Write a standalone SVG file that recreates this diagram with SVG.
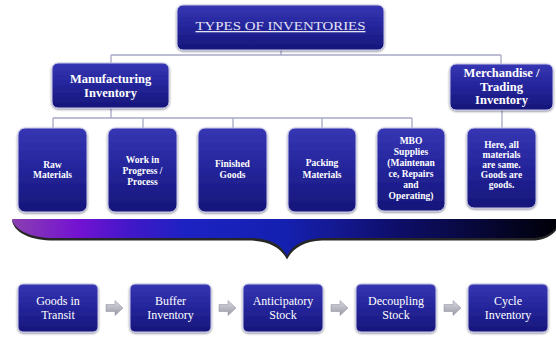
<svg xmlns="http://www.w3.org/2000/svg" width="556" height="337" viewBox="0 0 556 337">
<defs>
<linearGradient id="boxg" x1="0" y1="0" x2="0" y2="1">
<stop offset="0" stop-color="#3636b4"/>
<stop offset="0.5" stop-color="#24249a"/>
<stop offset="1" stop-color="#16167a"/>
</linearGradient>
<linearGradient id="band" x1="0" y1="0" x2="1" y2="0">
<stop offset="0" stop-color="#8a40b0"/>
<stop offset="0.12" stop-color="#7412d2"/>
<stop offset="0.22" stop-color="#4018c8"/>
<stop offset="0.32" stop-color="#1c22c2"/>
<stop offset="0.5" stop-color="#1420b0"/>
<stop offset="0.6" stop-color="#141890"/>
<stop offset="0.7" stop-color="#0e0e6c"/>
<stop offset="0.8" stop-color="#0a0a4c"/>
<stop offset="0.9" stop-color="#05052a"/>
<stop offset="1" stop-color="#000008"/>
</linearGradient>
<linearGradient id="arrg" x1="0" y1="0" x2="0" y2="1">
<stop offset="0" stop-color="#d8d8e0"/>
<stop offset="1" stop-color="#9a9aa8"/>
</linearGradient>
<filter id="sh" x="-10%" y="-10%" width="120%" height="125%">
<feDropShadow dx="0" dy="1" stdDeviation="1" flood-color="#000030" flood-opacity="0.5"/>
</filter>
<path id="arr" d="M0,-3.5 H9 V-7.5 L17,0 L9,7.5 V3.5 H0 Z"/>
</defs>
<style>
.box{fill:url(#boxg);stroke:#c8c8e8;stroke-width:1;filter:url(#sh)}
.t{font-family:"Liberation Serif","Times New Roman",serif;fill:#ffffff;text-anchor:middle}
.b13{font-size:12.5px;font-weight:bold}
.s9{font-size:9.5px;font-weight:bold}
.r13{font-size:12px}
.ln{stroke:#a8a8c8;stroke-width:1.3;fill:none}
.ar{fill:url(#arrg);stroke:#8a8a98;stroke-width:0.5}
</style>
<rect width="556" height="337" fill="#ffffff"/>

<g id="connectors">
<path class="ln" d="M281,50 V55 M111,55 H501 M111,55 V63 M501,55 V64"/>
<path class="ln" d="M111,108 V118 M53,118 H412 M53,118 V128 M143,118 V128 M233,118 V128 M322,118 V128 M412,118 V128"/>
<path class="ln" d="M502,110 V128"/>
</g>

<g id="title">
<rect class="box" x="177" y="5" width="207" height="45" rx="6"/>
<text class="t" x="280.5" y="30" font-size="13" style="fill:#e4e4f4" text-decoration="underline" textLength="170" lengthAdjust="spacingAndGlyphs">TYPES OF INVENTORIES</text>
</g>

<g id="manufacturing">
<rect class="box" x="52" y="63" width="117" height="45" rx="6"/>
<text class="t b13" x="110.5" y="82.5">Manufacturing</text>
<text class="t b13" x="110.5" y="97">Inventory</text>
</g>

<g id="merchandise">
<rect class="box" x="450" y="64" width="103" height="46" rx="6"/>
<text class="t b13" x="501.5" y="77">Merchandise /</text>
<text class="t b13" x="501.5" y="90.5">Trading</text>
<text class="t b13" x="501.5" y="104">Inventory</text>
</g>

<g id="raw">
<rect class="box" x="18" y="128" width="69" height="84" rx="7"/>
<text class="t s9" x="52.5" y="168">Raw</text>
<text class="t s9" x="52.5" y="178">Materials</text>
</g>

<g id="wip">
<rect class="box" x="108" y="128" width="69" height="84" rx="7"/>
<text class="t s9" x="142.5" y="163">Work in</text>
<text class="t s9" x="142.5" y="174">Progress /</text>
<text class="t s9" x="142.5" y="185">Process</text>
</g>

<g id="finished">
<rect class="box" x="198" y="128" width="69" height="84" rx="7"/>
<text class="t s9" x="232.5" y="167">Finished</text>
<text class="t s9" x="232.5" y="178">Goods</text>
</g>

<g id="packing">
<rect class="box" x="288" y="128" width="68" height="84" rx="7"/>
<text class="t s9" x="322" y="166">Packing</text>
<text class="t s9" x="322" y="178">Materials</text>
</g>

<g id="mbo">
<rect class="box" x="377" y="128" width="68" height="83" rx="7"/>
<text class="t s9" x="411" y="143.5">MBO</text>
<text class="t s9" x="411" y="154.5">Supplies</text>
<text class="t s9" x="411" y="166">(Maintenan</text>
<text class="t s9" x="411" y="177">ce, Repairs</text>
<text class="t s9" x="411" y="188">and</text>
<text class="t s9" x="411" y="199">Operating)</text>
</g>

<g id="merch-note">
<rect class="box" x="467" y="128" width="69" height="80" rx="7"/>
<text class="t s9" x="501.5" y="148">Here, all</text>
<text class="t s9" x="501.5" y="158">materials</text>
<text class="t s9" x="501.5" y="168">are same.</text>
<text class="t s9" x="501.5" y="178">Goods are</text>
<text class="t s9" x="501.5" y="188">goods.</text>
</g>

<g id="brace">
<path d="M12,219 H556 V229 C552,234 545,238 535,239 H322 C302,240 292,248 287,258 C282,248 272,240 252,239 H50 C28,238 14,230 12,219 Z" fill="#000000" transform="translate(0,1.5)" opacity="0.85"/>
<path d="M12,219 H556 V228 C552,233 545,237 535,238 H322 C302,239 292,246 287,256 C282,246 272,239 252,238 H50 C28,237 14,229 12,219 Z" fill="url(#band)"/>
</g>

<g id="goods-transit">
<rect class="box" x="18" y="284" width="80" height="48" rx="5"/>
<text class="t r13" x="58" y="305">Goods in</text>
<text class="t r13" x="58" y="319">Transit</text>
</g>
<g id="buffer">
<rect class="box" x="130" y="284" width="81" height="48" rx="5"/>
<text class="t r13" x="170.5" y="305">Buffer</text>
<text class="t r13" x="170.5" y="319">Inventory</text>
</g>
<g id="anticipatory">
<rect class="box" x="243" y="284" width="80" height="48" rx="5"/>
<text class="t r13" x="283" y="305">Anticipatory</text>
<text class="t r13" x="283" y="319">Stock</text>
</g>
<g id="decoupling">
<rect class="box" x="356" y="284" width="80" height="48" rx="5"/>
<text class="t r13" x="396" y="305">Decoupling</text>
<text class="t r13" x="396" y="319">Stock</text>
</g>
<g id="cycle">
<rect class="box" x="468" y="284" width="80" height="48" rx="5"/>
<text class="t r13" x="508" y="305">Cycle</text>
<text class="t r13" x="508" y="319">Inventory</text>
</g>

<g id="flow-arrows">
<use href="#arr" class="ar" x="106" y="308"/>
<use href="#arr" class="ar" x="219" y="308"/>
<use href="#arr" class="ar" x="331" y="308"/>
<use href="#arr" class="ar" x="444" y="308"/>
</g>
</svg>
